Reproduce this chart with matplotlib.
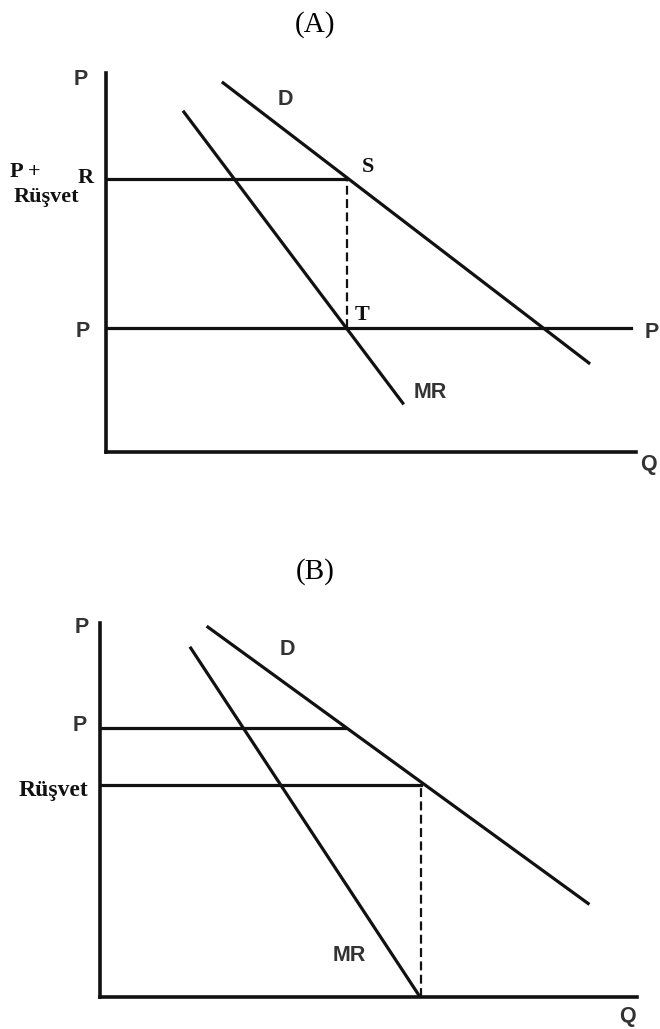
import matplotlib
matplotlib.use("Agg")
from matplotlib import pyplot as plt

# Panel A: price with bribe (P + Rüşvet) vs plain price P
a_bribe_price = 72.0
a_price = 32.7
a_d_q = [22.1, 91.1]
a_d_p = [97.4, 23.5]
a_mr_q = [14.7, 56.0]
a_mr_p = [89.7, 12.9]
a_q_star = 45.5

# Panel B: price P vs bribe level
b_price = 71.9
b_price_q = 45.6
b_bribe = 56.7
b_d_q = [20.1, 90.9]
b_d_p = [98.9, 25.0]
b_mr_q = [16.9, 59.6]
b_mr_p = [93.3, 0.0]
b_q_star = 59.8

W, H = 660, 1029
LINE = "#111111"
SANS = dict(family="Liberation Sans", fontweight="bold", color="#333333", fontsize=15.5)
SERIF = dict(family="Liberation Serif", fontweight="bold", color="#111111", fontsize=16)


def eksen(fig, left, top, right, bottom):
    ax = fig.add_axes([left / W, 1 - bottom / H, (right - left) / W, (bottom - top) / H])
    ax.set_xlim(0, 100)
    ax.set_ylim(0, 100)
    for s in ["top", "right"]:
        ax.spines[s].set_visible(False)
    for s in ["left", "bottom"]:
        ax.spines[s].set_linewidth(2.6)
        ax.spines[s].set_color(LINE)
    ax.set_xticks([])
    ax.set_yticks([])
    ax.patch.set_alpha(0)
    return ax


fig = plt.figure(figsize=(W / 100, H / 100), dpi=100)

# ---- (A)
fig.text(315 / W, 1 - 25 / H, "(A)", ha="center", va="center",
         family="Liberation Serif", fontsize=21)
ax = eksen(fig, 106, 73, 636, 452)
ax.plot([0, a_q_star], [a_bribe_price, a_bribe_price], color=LINE, lw=2.3)
ax.plot([0, 99], [a_price, a_price], color=LINE, lw=2.3)
ax.plot(a_d_q, a_d_p, color=LINE, lw=2.3)
ax.plot(a_mr_q, a_mr_p, color=LINE, lw=2.3)
ax.plot([a_q_star, a_q_star], [a_price, a_bribe_price], color=LINE, lw=1.6,
        linestyle=(0, (4, 2)))

ax.text(-4.7, 98.2, "P", ha="center", va="center", clip_on=False, **SANS)
ax.text(-18.1, 73.9, "P +", ha="left", va="center", clip_on=False, **SERIF)
ax.text(-3.9, 72.3, "R", ha="center", va="center", clip_on=False, **SERIF)
ax.text(-17.5, 67.3, "Rüşvet", ha="left", va="center", clip_on=False, **SERIF)
ax.text(49.4, 75.2, "S", ha="center", va="center", **SERIF)
ax.text(48.3, 36.1, "T", ha="center", va="center", **SERIF)
ax.text(33.8, 92.9, "D", ha="center", va="center", **SANS)
ax.text(61.1, 15.6, "MR", ha="center", va="center", **SANS)
ax.text(-4.3, 31.7, "P", ha="center", va="center", clip_on=False, **SANS)
ax.text(103, 31.4, "P", ha="center", va="center", clip_on=False, **SANS)
ax.text(102.3, -3.4, "Q", ha="center", va="center", clip_on=False, **SANS)

# ---- (B)
fig.text(315 / W, 1 - 572 / H, "(B)", ha="center", va="center",
         family="Liberation Serif", fontsize=21)
ax = eksen(fig, 100, 623, 637, 997)
ax.plot([0, b_price_q], [b_price, b_price], color=LINE, lw=2.3)
ax.plot([0, b_q_star], [b_bribe, b_bribe], color=LINE, lw=2.3)
ax.plot(b_d_q, b_d_p, color=LINE, lw=2.3)
ax.plot(b_mr_q, b_mr_p, color=LINE, lw=2.3)
ax.plot([b_q_star, b_q_star], [0, b_bribe], color=LINE, lw=1.6,
        linestyle=(0, (4, 2)))

ax.text(-3.4, 98.7, "P", ha="center", va="center", clip_on=False, **SANS)
ax.text(-3.7, 72.7, "P", ha="center", va="center", clip_on=False, **SANS)
ax.text(-2.2, 55.1, "Rüşvet", ha="right", va="center", clip_on=False,
        **dict(SERIF, fontsize=17))
ax.text(34.8, 93.0, "D", ha="center", va="center", **SANS)
ax.text(46.4, 11.2, "MR", ha="center", va="center", **SANS)
ax.text(98.3, -5.3, "Q", ha="center", va="center", clip_on=False, **SANS)

fig.savefig("out.png", dpi=100, facecolor="white")
